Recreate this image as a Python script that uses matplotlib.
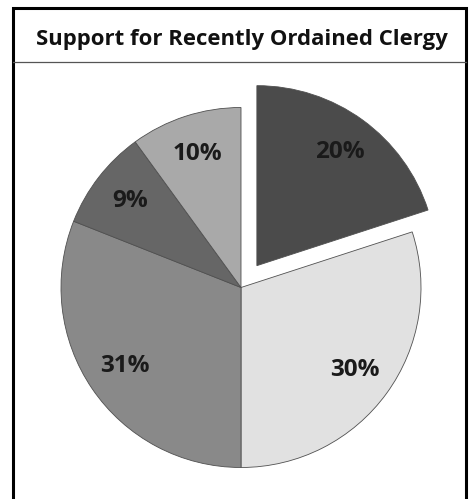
import matplotlib
matplotlib.use("Agg")
import matplotlib.pyplot as plt

# Data
title = "Support for Recently Ordained Clergy"
values = [20, 30, 31, 9, 10]
labels = ["20%", "30%", "31%", "9%", "10%"]
colors = ["#4b4b4b", "#e1e1e1", "#898989", "#666666", "#a9a9a9"]
explode = [0.15, 0, 0, 0, 0]

W, H = 469, 499
fig = plt.figure(figsize=(W / 100, H / 100), dpi=100)
fig.patch.set_facecolor("white")

# pie axes: 1 data unit = R pixels, centre at (cx, cy) in pixel coords (y down)
R = 180.0
cx, cy = 241.0, 287.5
ax = fig.add_axes([0, 0, 1, 1])
wedges, texts = ax.pie(
    values,
    labels=labels,
    colors=colors,
    explode=explode,
    startangle=90,
    counterclock=False,
    labeldistance=0.78,
    wedgeprops=dict(edgecolor="#505050", linewidth=0.6),
    textprops=dict(fontsize=17.5, fontfamily="Open Sans", fontweight="bold",
                   color="#1a1a1a", ha="center", va="center"),
)
for t in texts:
    t.set_ha("center")
    t.set_va("center")
ax.set_aspect("auto")
ax.set_xlim(-cx / R, (W - cx) / R)
ax.set_ylim(-(H - cy) / R, cy / R)
ax.axis("off")

# overlay axes for frame and title (pixel coords)
ov = fig.add_axes([0, 0, 1, 1], facecolor="none")
ov.set_xlim(0, W)
ov.set_ylim(H, 0)
ov.axis("off")
ov.plot([13, 13, 466, 466], [H + 5, 8, 8, H + 5], color="black", lw=2.2,
        solid_joinstyle="miter", clip_on=False)
ov.plot([13, 466], [62, 62], color="#555555", lw=0.9)
ov.text(242, 39, title, ha="center", va="center", fontsize=15.9,
        fontfamily="Open Sans", fontweight="bold", color="#111111")

fig.savefig("out.png", dpi=100, facecolor="white")
